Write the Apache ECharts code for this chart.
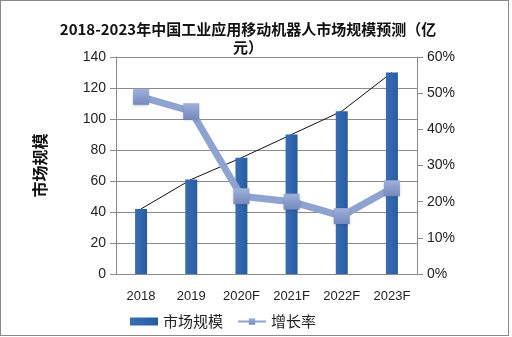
<!DOCTYPE html>
<html>
<head>
<meta charset="utf-8">
<script src="https://cdn.jsdelivr.net/npm/echarts@6/dist/echarts.min.js"></script>
<style>
  html, body { margin: 0; padding: 0; background: #fff; }
  #frame { position: absolute; left: 0; top: 0; width: 507px; height: 334px; border: 1px solid #8a8a8a; box-sizing: content-box; }
  #chart { position: absolute; left: 0; top: 0; width: 512px; height: 337px; }
</style>
</head>
<body>
<div id="frame"></div>
<div id="chart"></div>
<script>
// Market size (亿元) and growth rate by year
const years = ['2018', '2019', '2020F', '2021F', '2022F', '2023F'];
const marketSize = [42, 61, 75, 90, 105, 130];
const growthRate = [0.49, 0.45, 0.215, 0.20, 0.16, 0.237];
const leftTicks = { min: 0, max: 140, interval: 20 };
const rightTicks = { min: 0, max: 0.6, interval: 0.1 };

const labelFont = '"Liberation Sans", "Noto Sans CJK SC", sans-serif';
const cjkFont = '"Noto Sans CJK SC", sans-serif';

const chart = echarts.init(document.getElementById('chart'), null, { renderer: 'canvas' });
chart.setOption({
  animation: false,
  backgroundColor: 'transparent',
  title: {
    text: '2018-2023年中国工业应用移动机器人市场规模预测（亿\n元）',
    left: 243,
    textAlign: 'center',
    top: 15,
    textStyle: {
      fontFamily: cjkFont,
      fontSize: 15,
      fontWeight: 'bold',
      color: '#111',
      lineHeight: 18
    }
  },
  grid: { left: 116, right: 95, top: 57, bottom: 63 },
  legend: {
    bottom: 3,
    left: 125,
    itemGap: 14,
    itemWidth: 28,
    itemHeight: 8,
    textStyle: { fontFamily: cjkFont, fontSize: 15, color: '#222' },
    data: [
      { name: '市场规模', icon: 'rect' },
      { name: '增长率' }
    ]
  },
  xAxis: {
    type: 'category',
    data: years,
    axisLine: { lineStyle: { color: '#8a8a8a' } },
    axisTick: { show: false },
    axisLabel: { fontFamily: labelFont, fontSize: 13, color: '#222', margin: 16 }
  },
  yAxis: [
    {
      type: 'value',
      min: leftTicks.min, max: leftTicks.max, interval: leftTicks.interval,
      name: '市场规模',
      nameLocation: 'middle',
      nameGap: 68,
      nameTextStyle: { fontFamily: cjkFont, fontSize: 16, fontWeight: 'bold', color: '#111' },
      axisLine: { show: true, lineStyle: { color: '#8a8a8a' } },
      axisTick: { show: true, length: 6, lineStyle: { color: '#8a8a8a' } },
      axisLabel: { fontFamily: labelFont, fontSize: 14, color: '#222', margin: 10 },
      splitLine: { lineStyle: { color: '#8c8c8c', width: 1 } }
    },
    {
      type: 'value',
      min: rightTicks.min, max: rightTicks.max, interval: rightTicks.interval,
      axisLine: { show: true, lineStyle: { color: '#8a8a8a' } },
      axisTick: { show: true, length: 6, lineStyle: { color: '#8a8a8a' } },
      axisLabel: {
        fontFamily: labelFont, fontSize: 14, color: '#222', margin: 10,
        formatter: v => Math.round(v * 100) + '%'
      },
      splitLine: { show: false }
    }
  ],
  series: [
    {
      // thin trend line through the bar tops, hidden behind the bars
      name: 'trend',
      type: 'line',
      data: marketSize,
      yAxisIndex: 0,
      z: 1,
      symbol: 'none',
      lineStyle: { color: '#111', width: 1 },
      silent: true
    },
    {
      name: '市场规模',
      type: 'bar',
      data: marketSize,
      yAxisIndex: 0,
      barWidth: 12,
      z: 2,
      itemStyle: {
        color: new echarts.graphic.LinearGradient(0, 0, 1, 0, [
          { offset: 0, color: '#3a6cb0' },
          { offset: 0.5, color: '#2f66ae' },
          { offset: 1, color: '#2a5a9c' }
        ])
      }
    },
    {
      name: '增长率',
      type: 'line',
      data: growthRate,
      yAxisIndex: 1,
      z: 3,
      symbol: 'rect',
      symbolSize: 16,
      lineStyle: { color: '#8ea3d0', width: 7 },
      itemStyle: {
        color: new echarts.graphic.LinearGradient(0, 0, 0, 1, [
          { offset: 0, color: '#9fb2da' },
          { offset: 1, color: '#7388bd' }
        ]),
        shadowColor: 'rgba(0,0,0,0.25)',
        shadowBlur: 3,
        shadowOffsetY: 1
      }
    }
  ]
});
</script>
</body>
</html>
